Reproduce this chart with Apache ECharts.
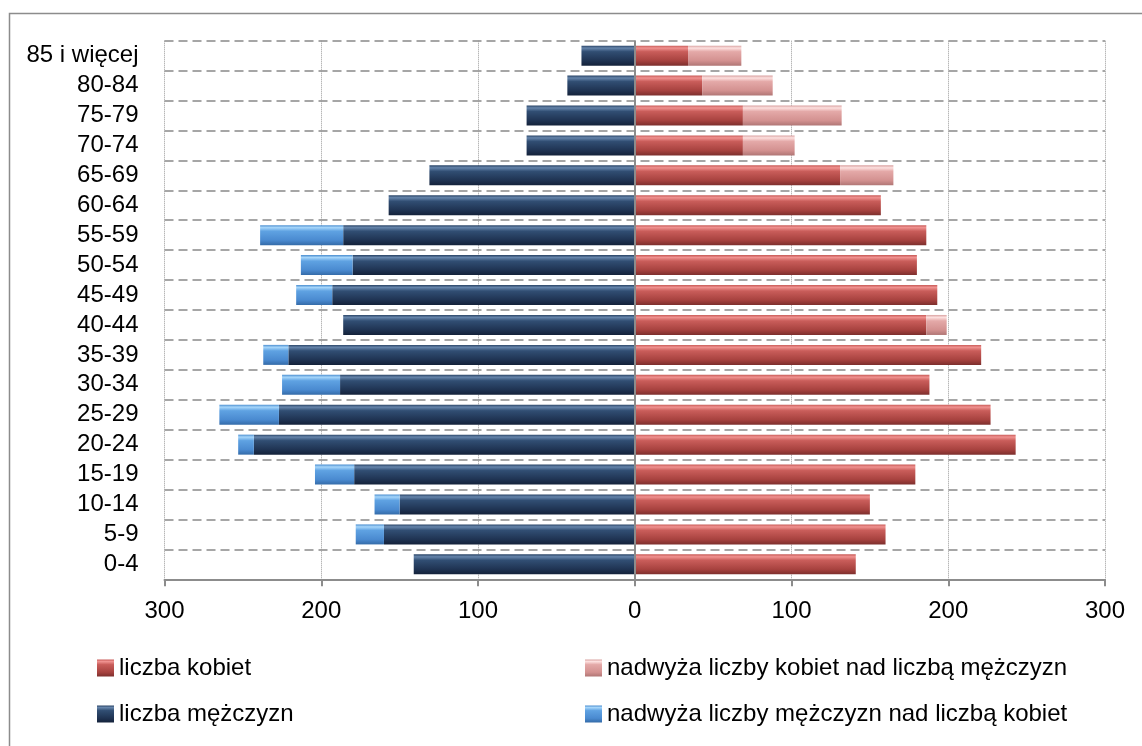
<!DOCTYPE html>
<html>
<head>
<meta charset="utf-8">
<script src="https://cdn.jsdelivr.net/npm/echarts@6/dist/echarts.min.js"></script>
<style>
  html, body { margin: 0; padding: 0; background: #fff; }
  #chart { width: 1142px; height: 746px; }
</style>
</head>
<body>
<div id="chart"></div>
<script>
// grupy wieku, od dołu do góry
var kategorie = ['0-4', '5-9', '10-14', '15-19', '20-24', '25-29', '30-34', '35-39', '40-44',
    '45-49', '50-54', '55-59', '60-64', '65-69', '70-74', '75-79', '80-84', '85 i więcej'];
var liczbaKobiet = [141, 160, 150, 179, 243, 227, 188, 221, 186, 193, 180, 186, 157, 131, 69, 69, 43, 34];
var nadwyzkaKobiet = [0, 0, 0, 0, 0, 0, 0, 0, 13, 0, 0, 0, 0, 34, 33, 63, 45, 34];
var liczbaMezczyzn = [141, 160, 150, 179, 243, 227, 188, 221, 186, 193, 180, 186, 157, 131, 69, 69, 43, 34];
var nadwyzkaMezczyzn = [0, 18, 16, 25, 10, 38, 37, 16, 0, 23, 33, 53, 0, 0, 0, 0, 0, 0];
var osX = { min: -300, max: 300, interval: 100 };

var font = 'Liberation Sans';

function grad(stops) {
    return new echarts.graphic.LinearGradient(0, 0, 0, 1, stops.map(function (s) {
        return { offset: s[0], color: s[1] };
    }));
}
var kolorKobiet = grad([[0, '#c85b58'], [0.12, '#f09290'], [0.3, '#c95d5a'], [0.75, '#a7423f'], [1, '#7d2f2d']]);
var kolorNadwK = grad([[0, '#d9a2a1'], [0.12, '#fde0df'], [0.3, '#e4a9a8'], [0.75, '#d39190'], [1, '#b07675']]);
var kolorMezczyzn = grad([[0, '#2a4466'], [0.12, '#6685ab'], [0.3, '#314e73'], [0.75, '#1f3352'], [1, '#14223a']]);
var kolorNadwM = grad([[0, '#4d8fd0'], [0.12, '#a6d6fb'], [0.3, '#5fa2e2'], [0.75, '#4a8ad0'], [1, '#346ba8']]);

function neg(arr) {
    return arr.map(function (v) { return -v; });
}

function legenda(left, nazwy) {
    return {
        left: left, top: 656, height: 90,
        orient: 'vertical',
        itemWidth: 17, itemHeight: 17, itemGap: 22,
        icon: 'rect',
        padding: 0,
        textStyle: { fontFamily: font, fontSize: 24, color: '#000' },
        data: nazwy
    };
}

var option = {
    backgroundColor: '#fff',
    animation: false,
    textStyle: { fontFamily: font },
    graphic: [{
        type: 'rect',
        left: 7, top: 11,
        shape: { width: 1200, height: 800 },
        style: { fill: 'none', stroke: '#8c8c8c', lineWidth: 1.5 },
        silent: true
    }],
    legend: [
        legenda(97, ['liczba kobiet', 'liczba mężczyzn']),
        legenda(585, ['nadwyża liczby kobiet nad liczbą mężczyzn', 'nadwyża liczby mężczyzn nad liczbą kobiet'])
    ],
    grid: { left: 164.5, right: 37, top: 40.7, bottom: 166.7, containLabel: false },
    xAxis: {
        type: 'value',
        min: osX.min, max: osX.max, interval: osX.interval,
        axisLine: { show: true, lineStyle: { color: '#8c8c8c', width: 2 } },
        axisTick: { show: true, length: 7, lineStyle: { color: '#8c8c8c', width: 2 } },
        axisLabel: {
            margin: 20, fontFamily: font, fontSize: 24, color: '#000',
            formatter: function (v) { return Math.abs(v); }
        },
        splitLine: { show: true, lineStyle: { type: 'dotted', color: '#9a9a9a', width: 1 } }
    },
    yAxis: {
        type: 'category',
        data: kategorie,
        boundaryGap: true,
        axisLine: { show: false },
        axisTick: { show: false },
        axisLabel: { interval: 0, margin: 26, fontFamily: font, fontSize: 24, color: '#000' },
        splitLine: { show: true, interval: 0, lineStyle: { type: [9, 5], color: '#a6a6a6', width: 2 } }
    },
    series: [{
        name: 'liczba mężczyzn',
        type: 'bar', stack: 'm', barWidth: 20, barGap: '-100%',
        itemStyle: { color: kolorMezczyzn },
        data: neg(liczbaMezczyzn),
        markLine: {
            silent: true, symbol: 'none',
            label: { show: false },
            lineStyle: { type: 'solid', color: '#8c8c8c', width: 2 },
            data: [{ xAxis: 0 }]
        }
    }, {
        name: 'nadwyża liczby mężczyzn nad liczbą kobiet',
        type: 'bar', stack: 'm', barWidth: 20, barGap: '-100%',
        itemStyle: { color: kolorNadwM },
        data: neg(nadwyzkaMezczyzn)
    }, {
        name: 'liczba kobiet',
        type: 'bar', stack: 'k', barWidth: 20, barGap: '-100%',
        itemStyle: { color: kolorKobiet },
        data: liczbaKobiet
    }, {
        name: 'nadwyża liczby kobiet nad liczbą mężczyzn',
        type: 'bar', stack: 'k', barWidth: 20, barGap: '-100%',
        itemStyle: { color: kolorNadwK },
        data: nadwyzkaKobiet
    }]
};

var myChart = echarts.init(document.getElementById('chart'));
myChart.setOption(option);
</script>
</body>
</html>
